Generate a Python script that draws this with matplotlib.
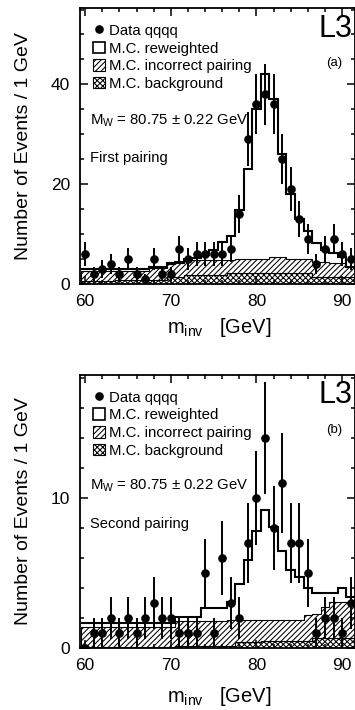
import numpy as np
import matplotlib
matplotlib.use("Agg")
import matplotlib.pyplot as plt
from matplotlib.patches import Patch
from matplotlib.lines import Line2D
from matplotlib.ticker import MultipleLocator

plt.rcParams['font.family'] = ['Liberation Sans', 'DejaVu Sans']
plt.rcParams['mathtext.fontset'] = 'custom'
plt.rcParams['mathtext.rm'] = 'Liberation Sans'
plt.rcParams['mathtext.it'] = 'Liberation Sans:italic'
plt.rcParams['hatch.linewidth'] = 0.75

# bin centres, 1 GeV bins
m_inv = np.arange(60, 92)

# ---- (a) first pairing ----
data_a = [6, 2, 3, 4, 2, 5, 2, 1, 5, 2, 2, 7, 5, 6, 6, 6,
          6, 7, 14, 29, 36, 38, 36, 25, 19, 13, 9, 4, 7, 9, 6, 5]
mc_a = [3.0, 3.0, 3.0, 3.0, 3.0, 3.0, 3.0, 3.0, 3.5, 3.5, 4.3, 4.5, 5.0, 5.3, 5.9, 6.9,
        8.5, 9.7, 14.9, 23, 35, 42, 37, 26, 18, 13, 10.7, 8.2, 6.9, 6.2, 5.5, 3.5]
wrong_a = [2.0, 2.0, 2.0, 2.0, 1.8, 1.8, 1.8, 1.8, 2.4, 2.4, 2.6, 2.8, 3.0, 3.0, 3.0, 3.0,
           3.0, 2.5, 2.8, 2.8, 2.8, 2.9, 3.2, 3.2, 2.8, 2.8, 2.8, 3.0, 3.0, 2.8, 2.8, 2.1]
bkg_a = [0.7, 0.7, 0.7, 0.7, 0.9, 0.9, 0.9, 0.9, 0.9, 0.9, 1.4, 1.4, 1.8, 1.8, 1.8, 1.8,
         1.8, 2.3, 2.3, 2.3, 2.3, 2.2, 2.2, 2.2, 2.2, 2.2, 2.2, 1.4, 1.4, 1.4, 1.4, 1.4]

# ---- (b) second pairing ----
data_b = [0, 1, 1, 2, 1, 2, 1, 2, 3, 2, 2, 1, 1, 1, 5, 1,
          6, 3, 2, 7, 10, 14, 8, 11, 7, 7, 5, 1, 2, 2, 1, 3]
mc_b = [1.7, 1.7, 1.7, 1.7, 1.7, 1.7, 1.7, 1.7, 1.7, 1.7, 1.7, 2.1, 2.1, 2.1, 2.7, 2.7,
        2.7, 3.1, 4.3, 5.9, 7.8, 9.2, 8.1, 6.5, 5.2, 4.75, 4.0, 3.7, 3.7, 3.7, 4.0, 3.4]
wrong_b = [1.35, 1.35, 1.35, 1.35, 1.35, 1.35, 1.35, 1.35, 1.35, 1.35, 1.35, 1.67, 1.67, 1.67, 1.67, 1.67,
           1.67, 1.77, 1.5, 1.5, 1.5, 1.4, 1.4, 1.4, 1.4, 1.4, 1.7, 1.65, 2.1, 2.45, 2.45, 2.45]
bkg_b = [0.05, 0.05, 0.05, 0.05, 0.05, 0.05, 0.05, 0.05, 0.05, 0.05, 0.05, 0.13, 0.13, 0.13, 0.13, 0.13,
         0.13, 0.13, 0.4, 0.4, 0.4, 0.5, 0.5, 0.5, 0.5, 0.5, 0.5, 0.65, 0.65, 0.65, 0.65, 0.65]

edges = np.append(m_inv - 0.5, m_inv[-1] + 0.5)


def draw_panel(ax, data, mc, wrong, bkg, ymax, ymajor, yminor, tag, pairing):
    data = np.array(data, float)
    bkg = np.array(bkg)
    top = bkg + np.array(wrong)

    ax.stairs(bkg, edges, baseline=0, fill=True, facecolor='white',
              edgecolor='black', hatch='xxxxxx', lw=0.8)
    ax.stairs(top, edges, baseline=bkg, fill=True, facecolor='white',
              edgecolor='black', hatch='//////', lw=0.8)
    ax.stairs(mc, edges, baseline=None, color='black', lw=1.5)

    err = np.sqrt(data)
    ax.errorbar(m_inv, data, yerr=err, fmt='o', color='black', ms=5.2,
                elinewidth=1.4, capsize=0, zorder=5)

    ax.set_xlim(59.4, 91.5)
    ax.set_ylim(0, ymax)
    ax.xaxis.set_major_locator(MultipleLocator(10))
    ax.xaxis.set_minor_locator(MultipleLocator(2))
    ax.yaxis.set_major_locator(MultipleLocator(ymajor))
    ax.yaxis.set_minor_locator(MultipleLocator(yminor))
    ax.tick_params(which='both', direction='in', top=True, right=True, width=1.1)
    ax.tick_params(which='major', length=6, labelsize=12.5, pad=7)
    ax.tick_params(which='minor', length=3)
    for s in ax.spines.values():
        s.set_linewidth(1.3)

    ax.set_ylabel('Number of Events / 1 GeV', fontsize=14)
    ax.yaxis.set_label_coords(-0.175, 0.5)
    ax.set_xlabel(r'm$_{\rm inv}$   [GeV]', fontsize=14.5)

    ax.text(0.99, 0.925, 'L3', transform=ax.transAxes, ha='right', va='center', fontsize=22)
    ax.text(0.925, 0.80, tag, transform=ax.transAxes, ha='center', va='center', fontsize=9.5)
    ax.text(0.036, 0.593, r'M$_{\rm W}$ = 80.75 ± 0.22 GeV', transform=ax.transAxes,
            ha='left', va='center', fontsize=10.7)
    ax.text(0.036, 0.455, pairing, transform=ax.transAxes, ha='left', va='center', fontsize=10.6)

    handles = [
        Line2D([], [], marker='o', color='black', ls='none', ms=5.2),
        Patch(facecolor='white', edgecolor='black', lw=1.2),
        Patch(facecolor='white', edgecolor='black', hatch='//////', lw=0.8),
        Patch(facecolor='white', edgecolor='black', hatch='xxxxxx', lw=0.8),
    ]
    labels = ['Data qqqq', 'M.C. reweighted', 'M.C. incorrect pairing', 'M.C. background']
    ax.legend(handles, labels, loc='upper left', bbox_to_anchor=(0.015, 0.975), frameon=False,
              fontsize=10.8, handlelength=0.8, handleheight=0.8, handletextpad=0.25,
              labelspacing=0.24, borderaxespad=0.4, borderpad=0.2)


fig = plt.figure(figsize=(3.55, 7.1), dpi=100)
ax1 = fig.add_axes([0.2254, 0.6, 0.7746, 0.3887])
ax2 = fig.add_axes([0.2254, 0.0873, 0.7746, 0.3845])

draw_panel(ax1, data_a, mc_a, wrong_a, bkg_a, 55.3, 20, 5, '(a)', 'First pairing')
draw_panel(ax2, data_b, mc_b, wrong_b, bkg_b, 18.2, 10, 2, '(b)', 'Second pairing')
ax1.xaxis.set_label_coords(0.505, -0.115)
ax2.xaxis.set_label_coords(0.505, -0.135)

fig.savefig('out.png', dpi=100)
